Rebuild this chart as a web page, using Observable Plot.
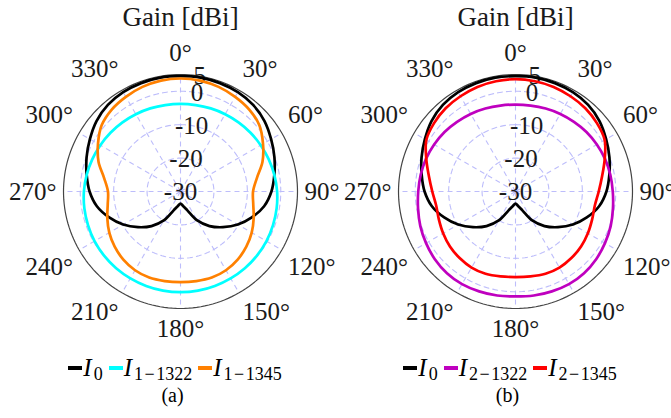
<!DOCTYPE html>
<html>
<head>
<meta charset="utf-8">
<script src="https://cdn.jsdelivr.net/npm/d3@7"></script>
<script src="https://cdn.jsdelivr.net/npm/@observablehq/plot@0.6"></script>
<style>
  body { margin: 0; background: #fff; }
  #wrap { position: relative; width: 671px; height: 418px; font-family: "Liberation Serif", serif; color: #000; overflow: hidden; }
  .col { position: absolute; top: 0; width: 336px; height: 418px; }
  .col svg { position: absolute; top: 0; left: 0; overflow: visible; font-family: "Liberation Serif", serif; }
  .col svg text { font-family: "Liberation Serif", serif !important; }
  .legend { position: absolute; top: 355px; left: 0; width: 356px; text-align: center; font-size: 25px; line-height: 26px; white-space: nowrap; }
  .sw { display: inline-block; width: 14px; height: 3.5px; vertical-align: 6.5px; margin-right: 1px; }
  .legend i { font-style: italic; margin-right: 2px; }
  .legend sub { font-size: 18px; vertical-align: -4px; line-height: 0; margin-right: 6px; }
  .legend .m { margin: 0 1.5px; }
  .cap { position: absolute; top: 385px; left: 0; width: 345px; text-align: center; font-size: 20px; line-height: 20px; }
</style>
</head>
<body>
<div id="wrap">
  <div class="col" id="colA"></div>
  <div class="col" id="colB" style="left:335px"></div>
</div>
<script>
// ---- data ----
const angles = [0,10,20,30,40,50,60,70,80,90,100,110,120,130,140,150,160,170,180,190,200,210,220,230,240,250,260,270,280,290,300,310,320,330,340,350];

const gainI0 = [4.5,4.6,4.5,4.3,3.8,2.8,1.3,-0.1,-1.5,-2.8,-4.6,-7.3,-10.2,-13.4,-16.5,-20.0,-24.0,-25.6,-26.4,-25.6,-24.0,-20.0,-16.5,-13.4,-10.2,-7.3,-4.6,-2.8,-1.5,-0.1,1.3,2.8,3.8,4.3,4.5,4.6];

const gainI1_1322 = [-3.8,-3.75,-3.55,-3.3,-3.0,-2.65,-2.3,-1.9,-1.5,-1.1,-0.8,-0.55,-0.3,-0.15,-0.05,0.0,0.05,0.1,0.1,0.1,0.05,0.0,-0.05,-0.15,-0.3,-0.55,-0.8,-1.1,-1.5,-1.9,-2.3,-2.65,-3.0,-3.3,-3.55,-3.75];

const gainI1_1345 = [3.8,3.7,3.3,2.7,2.0,0.8,-1.5,-3.9,-6.8,-8.3,-7.9,-6.7,-5.4,-4.3,-3.4,-2.8,-2.6,-2.8,-2.9,-2.8,-2.6,-2.8,-3.4,-4.3,-5.4,-6.7,-7.9,-8.3,-6.8,-3.9,-1.5,0.8,2.0,2.7,3.3,3.7];

const gainI2_1322 = [-4.0,-3.9,-3.6,-3.2,-2.8,-2.3,-1.9,-1.5,-1.2,-0.9,-0.4,0.3,0.9,1.5,1.9,2.0,1.8,1.6,1.4,1.6,1.8,2.0,1.9,1.5,0.9,0.3,-0.4,-0.9,-1.2,-1.5,-1.9,-2.3,-2.8,-3.2,-3.6,-3.9];

const gainI2_1345 = [3.6,3.5,3.3,2.9,2.5,1.8,0.8,-1.6,-3.7,-5.1,-5.9,-5.6,-5.0,-4.4,-4.0,-3.7,-3.8,-4.2,-4.4,-4.2,-3.8,-3.7,-4.0,-4.4,-5.0,-5.6,-5.9,-5.1,-3.7,-1.6,0.8,1.8,2.5,2.9,3.3,3.5];

const radialTicks = [-30, -20, -10, 0, 5];
const gridValues = [-20, -10, 0];
const angleTicks = [0,30,60,90,120,150,180,210,240,270,300,330];
const rMin = -30, rMax = 5;

const panelA = {
  caption: "(a)",
  series: [
    {name: "0", color: "#000000", gains: gainI0},
    {name: "1\u22121322", color: "#00ffff", gains: gainI1_1322},
    {name: "1\u22121345", color: "#ff8000", gains: gainI1_1345}
  ]
};
const panelB = {
  caption: "(b)",
  series: [
    {name: "0", color: "#000000", gains: gainI0},
    {name: "2\u22121322", color: "#bf00bf", gains: gainI2_1322},
    {name: "2\u22121345", color: "#ff0000", gains: gainI2_1345}
  ]
};

// ---- drawing ----
const R = rMax - rMin;            // radial span in dB
const cx = 180, cy = 191, Rpx = 117;
const ppu = Rpx / R;              // pixels per dB
const gridColor = "#bdbdfb";
const labelFont = 25;
const FONT = "Liberation Serif";

const ctx = document.createElement("canvas").getContext("2d");
ctx.font = `${labelFont}px "${FONT}"`;

function toXY(a, g) {
  const t = a * Math.PI / 180, r = g - rMin;
  return {x: r * Math.sin(t), y: r * Math.cos(t)};
}
function sgn(v) { return Math.abs(v) < 1e-9 ? 0 : Math.sign(v); }

function polarChart(panel) {
  const circleAngles = d3.range(0, 361, 2);
  const grid = gridValues.flatMap(v => circleAngles.map(a => ({v, ...toXY(a, v)})));
  const outer = circleAngles.map(a => toXY(a, rMax));
  const spokes = angleTicks.map(a => toXY(a, rMax));

  // tick labels sit outside the circle, anchored on the side facing the centre
  const angleLabels = angleTicks.map(a => {
    const txt = a + "\u00b0";
    const w = ctx.measureText(txt).width;
    const t = a * Math.PI / 180;
    const s = Math.sin(t), c = Math.cos(t);
    const px = 124 * s + sgn(s) * w / 2;
    const py = 124 * c + sgn(c) * (c > 0 ? 15 : 13.5);
    return {txt, x: px / ppu, y: py / ppu};
  });

  const radialLabels = radialTicks.map(v => ({txt: String(v), ...toXY(9.5, v)}));

  const curves = panel.series.map(s => Plot.line(
    angles.map((a, i) => toXY(a, s.gains[i])),
    {x: "x", y: "y", stroke: s.color, strokeWidth: 2.7, curve: "catmull-rom-closed", strokeLinejoin: "round"}
  ));

  return Plot.plot({
    width: 336, height: 352,
    marginLeft: 24, marginRight: 0, marginTop: 0, marginBottom: 0,
    style: {background: "transparent", overflow: "visible"},
    x: {domain: [-R, R], range: [cx - Rpx, cx + Rpx], axis: null},
    y: {domain: [-R, R], range: [cy + Rpx, cy - Rpx], axis: null},
    marks: [
      Plot.line(grid, {x: "x", y: "y", z: "v", stroke: gridColor, strokeWidth: 1.1, strokeDasharray: "5,4"}),
      Plot.link(spokes, {x1: 0, y1: 0, x2: "x", y2: "y", stroke: gridColor, strokeWidth: 1.1, strokeDasharray: "5,4"}),
      Plot.line(outer, {x: "x", y: "y", stroke: "#444444", strokeWidth: 1.2}),
      Plot.text(radialLabels, {x: "x", y: "y", text: "txt", fontSize: labelFont, fontFamily: FONT, fill: "#1a1a1a"}),
      Plot.text(angleLabels, {x: "x", y: "y", text: "txt", fontSize: labelFont, fontFamily: FONT, fill: "#1a1a1a"}),
      ...curves,
      Plot.text(["Gain [dBi]"], {frameAnchor: "top", lineAnchor: "middle", dy: 17, fontSize: 27, fontFamily: FONT, fill: "#1a1a1a"})
    ]
  });
}

function legendHTML(panel) {
  const div = document.createElement("div");
  div.className = "legend";
  div.innerHTML = panel.series.map(s => {
    const parts = s.name.split("\u2212");
    const sub = parts.length > 1 ? `${parts[0]}<span class="m">\u2212</span>${parts[1]}` : parts[0];
    return `<span class="sw" style="background:${s.color}"></span><i>I</i><sub>${sub}</sub>`;
  }).join("");
  return div;
}

for (const [id, panel] of [["colA", panelA], ["colB", panelB]]) {
  const col = document.getElementById(id);
  col.appendChild(polarChart(panel));
  col.appendChild(legendHTML(panel));
  const cap = document.createElement("div");
  cap.className = "cap";
  cap.textContent = panel.caption;
  col.appendChild(cap);
}
</script>
</body>
</html>
